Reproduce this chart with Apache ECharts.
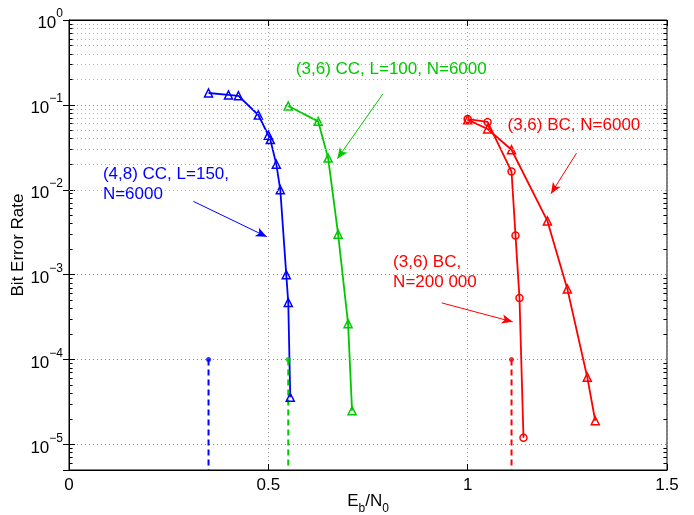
<!DOCTYPE html>
<html>
<head>
<meta charset="utf-8">
<script src="https://cdn.jsdelivr.net/npm/echarts@6/dist/echarts.min.js"></script>
<style>
html, body { margin: 0; padding: 0; background: #fff; }
#chart { width: 694px; height: 515px; }
</style>
</head>
<body>
<div id="chart"></div>
<script>
// axis range
var xTicks = [0, 0.5, 1, 1.5];
var yMin = 5e-6, yMax = 1;

// (4,8) CC, L=150, N=6000
var cc48X = [0.35, 0.40, 0.425, 0.475, 0.50, 0.505, 0.52, 0.53, 0.545, 0.55, 0.555];
var cc48Y = [0.138, 0.131, 0.128, 0.076, 0.044, 0.039, 0.020, 0.0100, 0.00100, 0.00047, 3.6e-5];
// (3,6) CC, L=100, N=6000
var cc36X = [0.55, 0.625, 0.65, 0.675, 0.70, 0.71];
var cc36Y = [0.097, 0.064, 0.0236, 0.0030, 0.000265, 2.5e-5];
// (3,6) BC, N=6000
var bc6kX = [1.0, 1.05, 1.11, 1.20, 1.25, 1.30, 1.32];
var bc6kY = [0.067, 0.052, 0.0296, 0.0043, 0.00068, 6.2e-5, 1.9e-5];
// (3,6) BC, N=200 000
var bc200kX = [1.0, 1.05, 1.11, 1.12, 1.13, 1.14];
var bc200kY = [0.068, 0.063, 0.0164, 0.0029, 0.00053, 1.2e-5];

// thresholds (dot + dashed line down)
var thrX = [0.35, 0.55, 1.11];
var thrY = 1e-4;

// annotations
var noteText = ['(4,8) CC, L=150,\nN=6000', '(3,6) CC, L=100, N=6000', '(3,6) BC, N=6000', '(3,6) BC,\nN=200 000'];
var notePos = [[0.085, 0.0115], [0.569, 0.263], [1.10, 0.058], [0.813, 0.00106]];
var arrowFrom = [[0.312, 0.0073], [0.787, 0.134], [1.273, 0.027], [0.935, 4.65e-4]];
var arrowTo = [[0.496, 0.0028], [0.673, 0.0232], [1.209, 0.009], [1.113, 2.78e-4]];

var BLUE = '#0000ff', GREEN = '#00c800', RED = '#ff0000';
var FONT = 'Liberation Sans';
var FS = 17;

function pairs(xs, ys) {
  return xs.map(function (x, i) { return [x, ys[i]]; });
}

function note(i, color) {
  return {
    markLine: {
      silent: true,
      symbol: ['none', 'arrow'],
      symbolSize: [7, 11],
      label: { show: false },
      lineStyle: { color: color, width: 1, type: 'solid' },
      data: [[{ coord: arrowFrom[i] }, { coord: arrowTo[i] }]]
    },
    markPoint: {
      silent: true,
      symbol: 'circle',
      symbolSize: 0,
      label: {
        show: true, position: 'right', distance: 0,
        color: color, fontSize: FS, lineHeight: 20, fontFamily: FONT,
        formatter: function () { return noteText[i]; }
      },
      data: [{ coord: notePos[i] }]
    }
  };
}

function curve(xs, ys, color, symbol, size, i) {
  var s = {
    type: 'line',
    data: pairs(xs, ys),
    symbol: symbol,
    symbolSize: size,
    showAllSymbol: true,
    lineStyle: { color: color, width: 1.8 },
    itemStyle: { color: 'transparent', borderColor: color, borderWidth: 1.5 },
    z: 3
  };
  return Object.assign(s, note(i, color));
}

// minor log grid values (2..9 per decade)
var minorY = [];
for (var e = -6; e < 0; e++) {
  for (var m = 2; m <= 9; m++) {
    var v = m * Math.pow(10, e);
    if (v > yMin && v < yMax) minorY.push(v);
  }
}
var gridLines = [];
minorY.forEach(function (v) {
  gridLines.push({ yAxis: v, lineStyle: { color: '#b0b0b0', type: [1, 3], width: 1 } });
  gridLines.push([{ coord: [0, v], lineStyle: { color: '#000', type: 'solid', width: 1 } }, { coord: [0.009, v] }]);
  gridLines.push([{ coord: [1.491, v], lineStyle: { color: '#000', type: 'solid', width: 1 } }, { coord: [1.5, v] }]);
});

var series = [
  {
    type: 'line', data: [], z: 1,
    markLine: { silent: true, symbol: 'none', label: { show: false }, data: gridLines }
  },
  curve(cc48X, cc48Y, BLUE, 'triangle', 8, 0),
  curve(cc36X, cc36Y, GREEN, 'triangle', 8, 1),
  curve(bc6kX, bc6kY, RED, 'triangle', 8, 2),
  curve(bc200kX, bc200kY, RED, 'circle', 7, 3)
];

[BLUE, GREEN, RED].forEach(function (c, i) {
  series.push({
    type: 'line', data: [[thrX[i], thrY], [thrX[i], yMin]],
    symbol: 'none', lineStyle: { color: c, width: 2, type: [6, 4] }, z: 3
  });
  series.push({
    type: 'scatter', data: [[thrX[i], thrY]],
    symbol: 'circle', symbolSize: 5, itemStyle: { color: c }, z: 4
  });
});

function expLabel(v) {
  var l = Math.log10(v), e = Math.round(l);
  if (Math.abs(l - e) > 1e-6) return '';
  return '{b|10}{e|' + (e < 0 ? '\u2212' + (-e) : e) + '}';
}

var tickStyle = { show: true, inside: true, length: 6, lineStyle: { color: '#000' } };
var axisLine = { show: true, lineStyle: { color: '#000', width: 1 } };

var option = {
  animation: false,
  backgroundColor: '#fff',
  grid: {
    left: 69, right: 27, top: 20, bottom: 45,
    containLabel: false, outerBoundsMode: 'none',
    show: true, borderColor: '#000', borderWidth: 1
  },
  xAxis: [
    {
      type: 'value', min: xTicks[0], max: xTicks[xTicks.length - 1], interval: 0.5,
      name: '{a|E}{s|b}{a|/N}{s|0}', nameLocation: 'middle', nameGap: 23, nameMoveOverlap: false,
      nameTextStyle: {
        rich: {
          a: { fontSize: FS, fontFamily: FONT, color: '#000', lineHeight: 8, verticalAlign: 'top' },
          s: { fontSize: 12, fontFamily: FONT, color: '#000', lineHeight: 22, verticalAlign: 'bottom' }
        }
      },
      axisLine: axisLine, axisTick: tickStyle,
      axisLabel: { color: '#000', fontSize: FS, fontFamily: FONT, margin: 7 },
      splitLine: { show: true, lineStyle: { color: '#999', type: [1, 3] } }
    },
    {
      type: 'value', position: 'top', min: xTicks[0], max: xTicks[xTicks.length - 1], interval: 0.5,
      axisLine: axisLine, axisTick: tickStyle, axisLabel: { show: false }, splitLine: { show: false }
    }
  ],
  yAxis: [
    {
      type: 'log', logBase: 10, min: yMin, max: yMax,
      name: 'Bit Error Rate', nameLocation: 'middle', nameGap: 42, nameMoveOverlap: false,
      nameTextStyle: { color: '#000', fontSize: FS, fontFamily: FONT },
      axisLine: axisLine, axisTick: tickStyle,
      axisLabel: {
        color: '#000', margin: 6, formatter: expLabel,
        rich: {
          b: { fontSize: FS, fontFamily: FONT, color: '#000', lineHeight: 24, verticalAlign: 'bottom' },
          e: { fontSize: 12, fontFamily: FONT, color: '#000', lineHeight: 4, verticalAlign: 'top' }
        }
      },
      splitLine: { show: true, lineStyle: { color: '#888', type: [1, 3] } }
    },
    {
      type: 'log', logBase: 10, min: yMin, max: yMax, position: 'right',
      axisLine: axisLine, axisTick: tickStyle, axisLabel: { show: false }, splitLine: { show: false }
    }
  ],
  series: series
};

var chart = echarts.init(document.getElementById('chart'));
chart.setOption(option);
</script>
</body>
</html>
